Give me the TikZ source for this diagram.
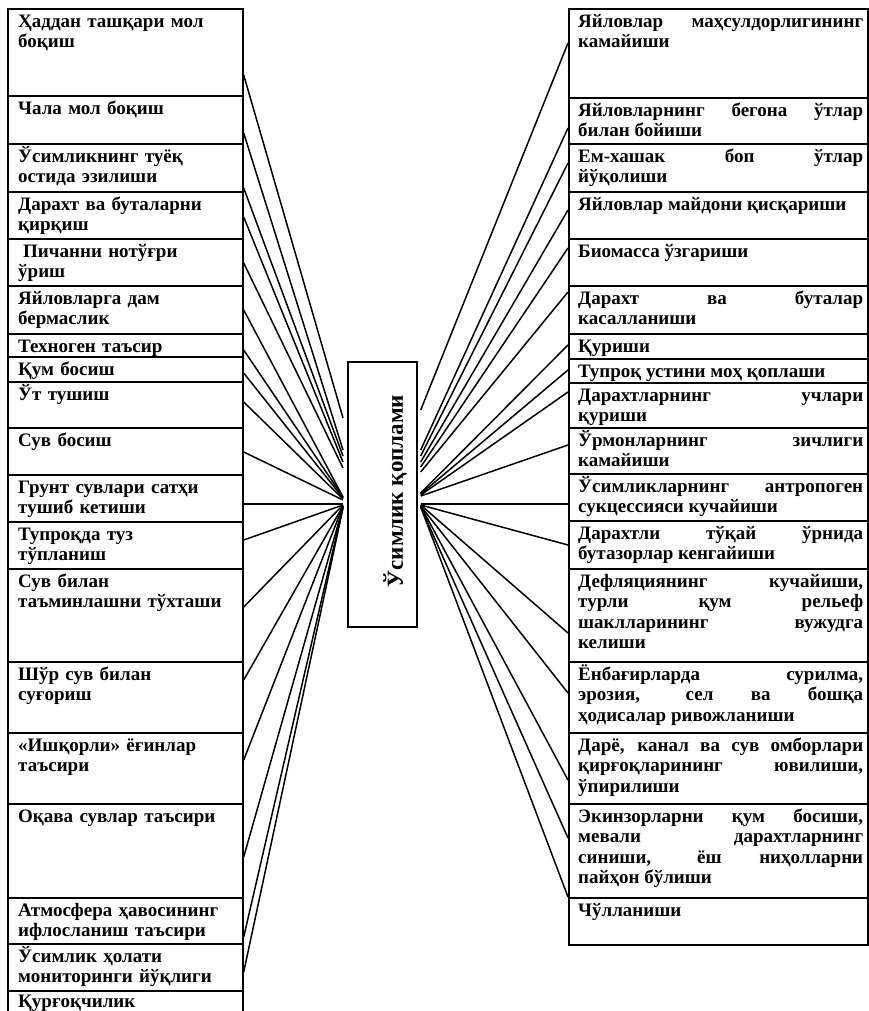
\documentclass[tikz,border=0pt]{standalone}
\usepackage{fontspec}
\setmainfont{Liberation Serif}
\tikzset{
  bx/.style={draw, line width=1.7pt, rectangle, inner sep=0pt, anchor=north west},
  txt/.style={anchor=north west, inner sep=0pt, font=\fontsize{19}{20.5}\selectfont\bfseries},
  ltx/.style={txt, text width=222pt, align=left},
  rtx/.style={txt, text width=285pt, align=justify},
  ln/.style={line width=1.5pt},
}
\newcommand\mkleft[5][-2pt]{%
  \node[bx, minimum width=235pt, minimum height={#4-#3}] (#2) at (7,#3) {};
  \node[ltx] (#2t) at ([xshift=11pt,yshift=#1]#2.north west) {\rule{0pt}{17pt}#5};}
\newcommand\mkright[4]{%
  \node[bx, minimum width=299pt, minimum height={#3-#2}] (#1) at (568,#2) {};
  \node[rtx] (#1t) at ([xshift=10pt,yshift=-2pt]#1.north west) {\rule{0pt}{17pt}#4};}
\begin{document}
\begin{tikzpicture}[x=1pt,y=-1pt]
\clip (0,0) rectangle (869,1011);
\fill[white] (0,0) rectangle (869,1011);
% left column
\mkleft{l1}{8}{95}{Ҳаддан ташқари мол\\боқиш}
\mkleft{l2}{95}{143}{Чала мол боқиш}
\mkleft{l3}{143}{191}{Ўсимликнинг туёқ\\остида эзилиши}
\mkleft{l4}{191}{238}{Дарахт ва буталарни\\қирқиш}
\mkleft{l5}{238}{285}{\hspace*{5pt}Пичанни нотўғри\\ўриш}
\mkleft{l6}{285}{333}{Яйловларга дам\\бермаслик}
\mkleft{l7}{333}{356}{Техноген таъсир}
\mkleft{l8}{356}{381}{Қум босиш}
\mkleft{l9}{381}{427}{Ўт тушиш}
\mkleft{l10}{427}{474}{Сув босиш}
\mkleft{l11}{474}{521}{Грунт сувлари сатҳи\\тушиб кетиши}
\mkleft{l12}{521}{568}{Тупроқда туз\\тўпланиш}
\mkleft{l13}{568}{661}{Сув билан\\таъминлашни тўхташи}
\mkleft{l14}{661}{732}{Шўр сув билан\\суғориш}
\mkleft{l15}{732}{803}{«Ишқорли» ёғинлар\\таъсири}
\mkleft{l16}{803}{897}{Оқава сувлар таъсири}
\mkleft{l17}{897}{943}{Атмосфера ҳавосининг\\ифлосланиш таъсири}
\mkleft{l18}{943}{990}{Ўсимлик ҳолати\\мониторинги йўқлиги}
\mkleft[0pt]{l19}{990}{1040}{\hspace*{0pt}Қурғоқчилик}
% right column
\mkright{r1}{8}{97}{Яйловлар маҳсулдорлигининг\linebreak камайиши}
\mkright{r2}{97}{143}{Яйловларнинг бегона ўтлар\linebreak билан бойиши}
\mkright{r3}{143}{191}{Ем-хашак боп ўтлар\linebreak йўқолиши}
\mkright{r4}{191}{238}{Яйловлар майдони қисқариши}
\mkright{r5}{238}{285}{Биомасса ўзгариши}
\mkright{r6}{285}{333}{Дарахт ва буталар\linebreak касалланиши}
\mkright{r7}{333}{358}{Қуриши}
\mkright{r8}{358}{382}{Тупроқ устини моҳ қоплаши}
\mkright{r9}{382}{427}{Дарахтларнинг учлари\linebreak қуриши}
\mkright{r10}{427}{473}{Ўрмонларнинг зичлиги\linebreak камайиши}
\mkright{r11}{473}{520}{Ўсимликларнинг антропоген\linebreak сукцессияси кучайиши}
\mkright{r12}{520}{568}{Дарахтли тўқай ўрнида\linebreak бутазорлар кенгайиши}
\mkright{r13}{568}{661}{Дефляциянинг кучайиши,\linebreak турли қум рельеф\linebreak шаклларининг вужудга\linebreak келиши}
\mkright{r14}{661}{732}{Ёнбағирларда сурилма,\linebreak эрозия, сел ва бошқа\linebreak ҳодисалар ривожланиши}
\mkright{r15}{732}{803}{Дарё, канал ва сув омборлари\linebreak қирғоқларининг ювилиши,\linebreak ўпирилиши}
\mkright{r16}{803}{897}{Экинзорларни қум босиши,\linebreak мевали дарахтларнинг\linebreak синиши, ёш ниҳолларни\linebreak пайҳон бўлиши}
\mkright{r17}{897}{944}{Чўлланиши}
% centre
\node[bx, minimum width=69pt, minimum height=265pt] (c) at (347,361) {};
\node[rotate=90, inner sep=0pt, font=\fontsize{23}{26}\selectfont\bfseries] (ct) at (395,491) {Ўсимлик қоплами};
\coordinate (cl) at ([xshift=-4pt]c.west);
\coordinate (cr) at ([xshift=3pt]c.east);
% left connectors
\foreach \n/\a/\b in {l1/75/418, l2/133/450, l3/188/456, l4/217/462, l5/263/468,
  l6/310/497, l7/350/497, l8/373/498, l9/402/499, l10/452/500, l11/504/504,
  l12/540/505, l13/607/505, l14/680/506, l15/760/506, l16/857/507, l17/937/507, l18/972/508}
  \draw[ln] (\n.east |- 0,\a) -- (cl |- 0,\b);
% right connectors
\foreach \n/\a/\b in {r1/43/410, r2/128/450, r3/163/456, r4/210/462, r5/248/467,
  r6/292/472, r7/345/493, r8/370/494, r9/392/495, r10/445/496, r11/504/504,
  r12/545/505, r13/633/505, r14/693/506, r15/780/506, r16/838/507}
  \draw[ln] (\n.west |- 0,\a) -- (cr |- 0,\b);
\draw[ln] (r17.north west) -- (cr |- 0,507);
\end{tikzpicture}
\end{document}
